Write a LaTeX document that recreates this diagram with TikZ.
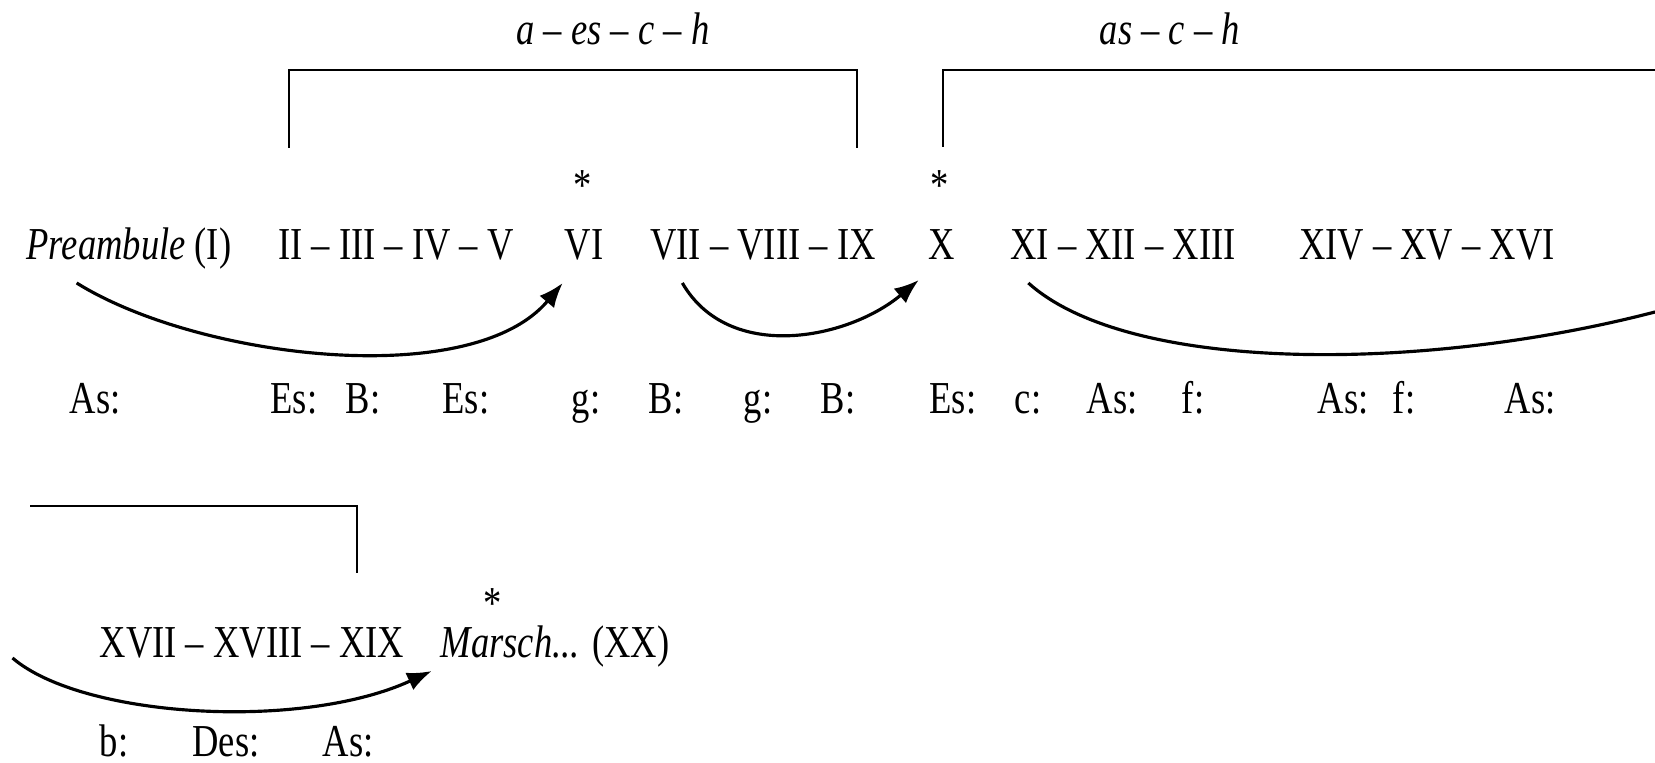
\documentclass[tikz,border=0pt]{standalone}
\usepackage{fontspec}
\setmainfont{Liberation Serif}[FakeStretch=0.8]
\usetikzlibrary{arrows.meta}

\tikzset{
  mvt/.style={anchor=base,inner sep=0pt,outer sep=0pt},
  tonart/.style={mvt},
  span/.style={line width=0.75pt},
  link/.style={line width=0.9pt},
  linkarrow/.style={link,-{Latex[length=7pt,width=5.4pt]}},
}

\begin{document}
\begin{tikzpicture}[font=\fontsize{13}{15}\selectfont]
\useasboundingbox (0,0) rectangle (16.55,7.63);
% first line of movements
\node[mvt] (pre) at (1.29,5.03) {\textit{Preambule} (I)};
\node[mvt] (ii) at (3.96,5.03) {II -- III -- IV -- V};
\node[mvt] (vi) at (5.84,5.03) {VI};
\node[mvt] (vii) at (7.63,5.03) {VII -- VIII -- IX};
\node[mvt] (x) at (9.42,5.03) {X};
\node[mvt] (xi) at (11.23,5.03) {XI -- XII -- XIII};
\node[mvt] (xiv) at (14.27,5.03) {XIV -- XV -- XVI};
\node[mvt] (star1) at (5.83,5.62) {*};
\node[mvt] (star2) at (9.40,5.62) {*};
% keys under the first line
\foreach \x/\t [count=\i] in {0.95/As:,2.94/Es:,3.63/B:,4.66/Es:,5.86/g:,6.66/B:,
    7.58/g:,8.38/B:,9.53/Es:,10.28/c:,11.12/As:,11.93/f:,13.43/As:,14.04/f:,15.30/As:}
  \node[tonart] (key\i) at (\x,3.49) {\t};
% the letter spans
\draw[span] (2.89,6.15) |- (8.57,6.93) -- (8.57,6.15);
\node[mvt] (span1) at (6.13,7.18) {\textit{a -- es -- c -- h}};
\draw[span] (9.43,6.16) |- (16.55,6.93);
\node[mvt] (span2) at (11.70,7.18) {\textit{as -- c -- h}};
\coordinate (cut1) at (16.55,4.51);
\draw[linkarrow] ([shift={(0.5,-0.23)}]pre.base west) to[out=-32,in=-130,looseness=0.75]
  ([shift={(-0.02,-0.23)}]vi.base west);
\draw[linkarrow] ([shift={(0.32,-0.23)}]vii.base west) to[out=-60,in=-140]
  ([shift={(-0.10,-0.20)}]x.base west);
\draw[link] ([shift={(0.18,-0.23)}]xi.base west) .. controls +(1,-0.9) and +(-2.35,-0.61) .. (cut1);
% second line, continued from the right edge
\draw[span] (0.30,2.57) -| (3.57,1.90);
\node[mvt] (xvii) at (2.52,1.05) {XVII -- XVIII -- XIX};
\node[mvt] (marsch) at (5.55,1.05) {\textit{Marsch...} (XX)};
\node[mvt] (star3) at (4.93,1.44) {*};
\coordinate (cut2) at (0.125,1.05);
\draw[linkarrow] (cut2) .. controls +(0.7,-0.6) and +(-1.3,-0.6) ..
  ([shift={(-0.09,-0.13)}]marsch.base west);
\node[tonart] (key16) at (1.14,0.06) {b:};
\node[tonart] (key17) at (2.26,0.06) {Des:};
\node[tonart] (key18) at (3.48,0.06) {As:};
\end{tikzpicture}
\end{document}
